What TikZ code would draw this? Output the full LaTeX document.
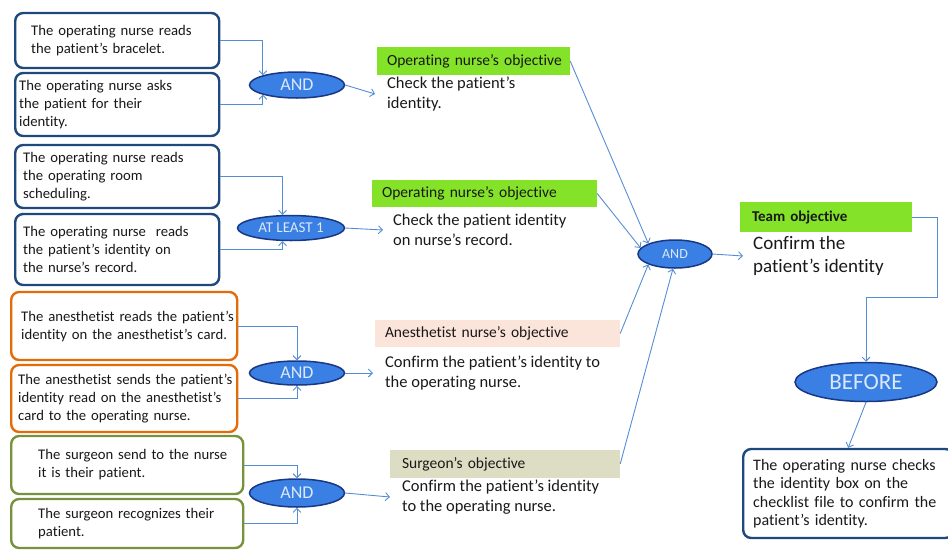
\documentclass[tikz,border=0pt]{standalone}
\usepackage{fontspec}
\setmainfont{Carlito}[Ligatures={NoCommon,NoRare}]
\usetikzlibrary{arrows.meta,shapes.geometric,calc}
\definecolor{navy}{RGB}{31,73,125}
\definecolor{orangeb}{RGB}{227,108,9}
\definecolor{oliveb}{RGB}{118,146,60}
\definecolor{limefill}{RGB}{132,226,40}
\definecolor{pinkfill}{RGB}{251,228,218}
\definecolor{khakifill}{RGB}{221,221,196}
\definecolor{linec}{RGB}{84,141,212}
\definecolor{gatefill}{RGB}{58,128,228}
\definecolor{gateborder}{RGB}{25,55,130}
\definecolor{gatetext}{RGB}{218,232,250}
\definecolor{txt}{RGB}{25,25,25}
\newcommand{\lineof}[1]{\mbox{#1}}
\begin{document}
\begin{tikzpicture}[x=1pt,y=-1pt,
  lbox/.style={draw, line width=2.4pt, rounded corners=8pt, fill=white, align=left,
    font=\fontsize{14.7}{18}\selectfont, text=txt, inner ysep=0pt, anchor=west},
  gate/.style={ellipse, draw=gateborder, fill=gatefill, line width=1.5pt, text=gatetext, inner sep=0pt},
  heading/.style={inner ysep=0pt, align=left, font=\fontsize{15.5}{18}\selectfont, text=txt},
  body/.style={anchor=west, inner ysep=0pt, align=left, font=\fontsize{16.5}{20}\selectfont, text=txt},
  arr/.style={draw=linec, line width=0.9pt, -{Straight Barb[length=4pt,width=8pt]}}
]
\clip (0,0) rectangle (948,550);
\useasboundingbox (0,0) rectangle (948,550);

% left boxes
\node[lbox, draw=navy, text width=172pt, inner xsep=16pt, minimum height=55pt] (b1) at (14,40.5)
  {\lineof{The operating nurse reads}\\\lineof{the patient’s bracelet.}};
\node[lbox, draw=navy, text width=196pt, inner xsep=4pt, minimum height=63pt] (b2) at (14,104.5)
  {\lineof{The operating nurse asks}\\\lineof{the patient for their}\\\lineof{identity.}};
\node[lbox, draw=navy, text width=188pt, inner xsep=8pt, minimum height=63pt] (b3) at (14,176.5)
  {\lineof{The operating nurse reads}\\\lineof{the operating room}\\\lineof{scheduling.}};
\node[lbox, draw=navy, text width=188pt, inner xsep=8pt, minimum height=71pt] (b4) at (14,249.5)
  {\lineof{The operating nurse\ \ reads}\\\lineof{the patient’s identity on}\\\lineof{the nurse’s record.}};
\node[lbox, draw=orangeb, text width=206pt, inner xsep=10pt, minimum height=68pt] (b5) at (10,326)
  {\lineof{The anesthetist reads the patient’s}\\\lineof{identity on the anesthetist’s card.}};
\node[lbox, draw=orangeb, text width=212pt, inner xsep=7pt, minimum height=67pt] (b6) at (10,398.5)
  {\lineof{The anesthetist sends the patient’s}\\\lineof{identity read on the anesthetist’s}\\\lineof{card to the operating nurse.}};
\node[lbox, draw=oliveb, text width=178pt, inner xsep=27pt, minimum height=58pt] (b7) at (10,465)
  {\lineof{The surgeon send to the nurse}\\\lineof{it is their patient.}};
\node[lbox, draw=oliveb, text width=178pt, inner xsep=27pt, minimum height=49pt] (b8) at (10,523.5)
  {\lineof{The surgeon recognizes their}\\\lineof{patient.}};

% gates
\node[gate, minimum width=95pt, minimum height=26pt, font=\fontsize{18}{20}\selectfont] (and1) at (297,85) {AND};
\node[gate, minimum width=107pt, minimum height=25pt, font=\fontsize{15}{16}\selectfont] (al) at (291,228) {AT LEAST 1};
\node[gate, minimum width=95pt, minimum height=24pt, font=\fontsize{18}{20}\selectfont] (and3) at (297,373) {AND};
\node[gate, minimum width=95pt, minimum height=28pt, font=\fontsize{18}{20}\selectfont] (and4) at (297,493) {AND};
\node[gate, minimum width=74pt, minimum height=28pt, font=\fontsize{14}{16}\selectfont] (cand) at (675,254) {AND};
\node[gate, minimum width=142pt, minimum height=39pt, font=\fontsize{23}{26}\selectfont] (before) at (866,382) {BEFORE};

% headings
\node[heading, fill=limefill, text width=173pt, inner xsep=10pt, minimum height=28pt] (h1) at (473.5,61) {\lineof{Operating nurse’s objective}};
\node[heading, fill=limefill, text width=205pt, inner xsep=10pt, minimum height=27pt] (h2) at (484.5,193.5) {\lineof{Operating nurse’s objective}};
\node[heading, fill=pinkfill, text width=225pt, inner xsep=10pt, minimum height=27pt] (h3) at (497.5,333.5) {\lineof{Anesthetist nurse’s objective}};
\node[heading, fill=khakifill, text width=206pt, inner xsep=12pt, minimum height=28pt] (h4) at (505,464) {\lineof{Surgeon’s objective}};
\node[heading, fill=limefill, text width=148pt, inner xsep=12pt, minimum height=30pt, font=\bfseries\fontsize{15}{18}\selectfont] (th) at (826,217) {\lineof{Team objective}};

% body texts
\node[body, inner xsep=12pt] (t1) at (375,94) {Check the patient’s\\identity.};
\node[body, inner xsep=10pt] (t2) at (383,230) {Check the patient identity\\on nurse’s record.};
\node[body, inner xsep=12pt] (t3) at (373,373) {Confirm the patient’s identity to\\the operating nurse.};
\node[body, inner xsep=12pt] (t4) at (390,497) {Confirm the patient’s identity\\to the operating nurse.};
\node[body, inner xsep=10pt, font=\fontsize{19}{23}\selectfont] (tt) at (743,256) {Confirm the\\patient’s identity};

% final box
\node[lbox, draw=navy, text width=190pt, inner xsep=10pt, minimum height=89pt, font=\fontsize{16}{18.5}\selectfont] (fin) at (742,493.5)
  {\lineof{The operating nurse checks}\\\lineof{the identity box on the}\\\lineof{checklist file to confirm the}\\\lineof{patient’s identity.}};

% connectors
\draw[arr] (b1.east) -| (and1.north west);
\draw[arr] (b2.east) -| (and1.south west);
\draw[arr] (b3.east) -| (al.123);
\draw[arr] (b4.east) -| (al.237);
\draw[arr] (b5.east) -| (and3.north);
\draw[arr] (b6.east) -| (and3.south);
\draw[arr] (b7.east) -| (and4.north);
\draw[arr] (b8.east) -| (and4.south);
\draw[arr] (and1.east) -- (t1.west);
\draw[arr] (al.east) -- (t2.west);
\draw[arr] (and3.east) -- (t3.west);
\draw[arr] (and4.east) -- (t4.west);
\draw[arr] (h1.east) -- (cand.north west);
\draw[arr] (h2.east) -- (cand.170);
\draw[arr] (h3.east) -- (cand.south west);
\draw[arr] (h4.east) -- (cand.262);
\draw[arr] (cand.east) -- (tt.west);
\draw[arr] (th.east) -| ++(25,80) -| (before.north);
\draw[arr] (before.south) -- (fin.north);
\end{tikzpicture}
\end{document}
